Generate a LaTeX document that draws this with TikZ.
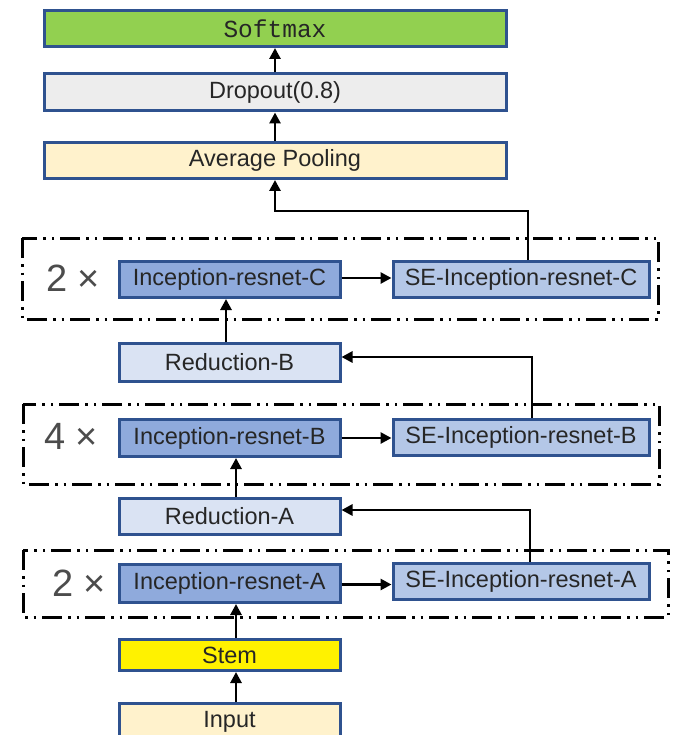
\documentclass[tikz,border=0pt]{standalone}
\usepackage{fontspec}
\setmainfont{Liberation Sans}
\setmonofont{Liberation Mono}
\usepackage{tikz}
\usetikzlibrary{arrows.meta,calc}

\definecolor{edgeblue}{HTML}{2F528F}
\definecolor{softgreen}{HTML}{92D050}
\definecolor{dropgray}{HTML}{EDEDED}
\definecolor{cream}{HTML}{FFF2CC}
\definecolor{incblue}{HTML}{8FAADC}
\definecolor{seblue}{HTML}{B4C7E7}
\definecolor{redblue}{HTML}{DAE3F3}

\begin{document}
\begin{tikzpicture}[x=1pt,y=-1pt,
		blk/.style={draw=edgeblue, line width=3pt, rectangle, inner sep=0pt, minimum height=36pt, text=black!85, font=\fontsize{23.5}{28}\selectfont},
		wide/.style={blk, minimum width=462pt},
		narrow/.style={blk, minimum width=221pt},
		senode/.style={blk, minimum width=256pt, fill=seblue},
		arr/.style={line width=2.8pt, -{Triangle[length=11pt,width=11pt]}},
		group/.style={line width=3pt, dash pattern=on 20pt off 6pt on 2.5pt off 6pt on 2.5pt off 6pt},
		times/.style={text=black!70, font=\fontsize{38}{42}\selectfont}]
		\useasboundingbox (0,0) rectangle (673,735);
		\node[wide, fill=softgreen, font=\ttfamily\fontsize{24.5}{28}\selectfont] (soft) at (275,28.5) {Softmax};
		\node[wide, fill=dropgray, minimum height=37pt] (drop) at (275,92.5) {Dropout(0.8)};
		\node[wide, fill=cream] (pool) at (275,160.5) {Average Pooling};
		\draw[group] (22,238) rectangle (658,319);
		\draw[group] (23,404) rectangle (659,484);
		\draw[group] (23,550) rectangle (668,617);
		\node[times] (repC) at (73,278) {2 ×};
		\node[times] (repB) at (71,436) {4 ×};
		\node[times] (repA) at (79,583) {2 ×};
		\node[narrow, fill=incblue] (incC) at (229.5,279.5) {Inception-resnet-C};
		\node[senode] (seC) at (521,279.5) {SE-Inception-resnet-C};
		\node[narrow, fill=redblue, minimum height=38pt] (redB) at (229.5,362.5) {Reduction-B};
		\node[narrow, fill=incblue, minimum height=37pt] (incB) at (229.5,438) {Inception-resnet-B};
		\node[senode] (seB) at (521,437) {SE-Inception-resnet-B};
		\node[narrow, fill=redblue] (redA) at (229.5,516.5) {Reduction-A};
		\node[narrow, fill=incblue, minimum height=38pt] (incA) at (229.5,583.5) {Inception-resnet-A};
		\node[senode] (seA) at (521,581) {SE-Inception-resnet-A};
		\node[narrow, fill=yellow, minimum height=31pt] (stem) at (229.5,655) {Stem};
		\node[narrow, fill=cream, minimum height=37pt] (inp) at (229.5,722) {Input};
		\coordinate (turn) at (275,211);
		\draw[arr] ([xshift=6.5pt]inp.north) -- ([xshift=6.5pt]stem.south);
		\draw[arr] ([xshift=6.5pt]stem.north) -- ([xshift=6.5pt]incA.south);
		\draw[arr] ([yshift=-1pt]incA.east) -- ([yshift=-1pt]incA.east -| seA.west);
		\draw[arr] ([xshift=9pt]seA.north) |- ([yshift=6.5pt]redA.east);
		\draw[arr] ([xshift=6.5pt]redA.north) -- ([xshift=6.5pt]incB.south);
		\draw[arr] (incB.east) -- (incB.east -| seB.west);
		\draw[arr] ([xshift=11pt]seB.north) |- ([yshift=5.5pt]redB.east);
		\draw[arr] ([xshift=-3.5pt]redB.north) -- ([xshift=-3.5pt]incC.south);
		\draw[arr] ([yshift=1.5pt]incC.east) -- ([yshift=1.5pt]incC.east -| seC.west);
		\draw[arr] ([xshift=7pt]seC.north) |- (turn) -- (pool.south);
		\draw[arr] (pool.north) -- (drop.south);
		\draw[arr] (drop.north) -- (soft.south);
	\end{tikzpicture}
\end{document}
